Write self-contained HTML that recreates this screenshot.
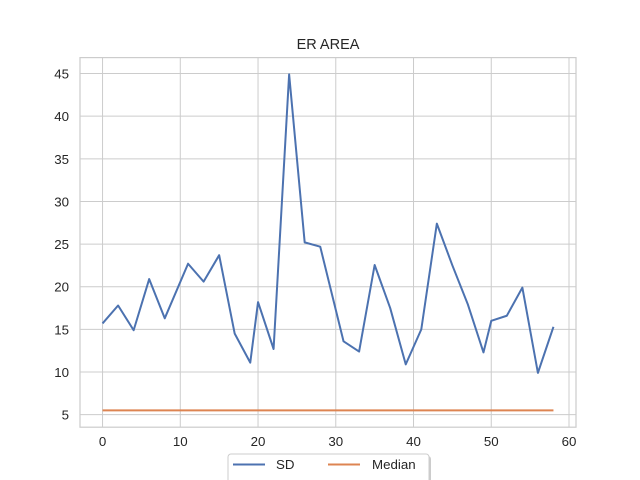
<!DOCTYPE html>
<html><head><meta charset="utf-8"><style>
body{margin:0;background:#fff;}
svg{display:block;font-family:"Liberation Sans",sans-serif;}
</style></head><body>
<svg id="chart" width="640" height="480">
<text x="328" y="49" text-anchor="middle" font-size="14.5" fill="#262626">ER AREA</text>
<g id="grid"></g>
<rect x="80" y="57.6" width="496" height="369.6" fill="none" stroke="#cccccc" stroke-width="1.2"/>
<g id="ticks"></g>
<g id="series"></g>
<g>
<rect x="230" y="456" width="201" height="30" rx="3" fill="#999" opacity="0.5"/>
<rect x="228" y="454" width="201" height="30" rx="3" fill="#fff" stroke="#cccccc"/>
<line x1="233" y1="464.5" x2="265" y2="464.5" stroke="#4c72b0" stroke-width="2"/>
<text x="276" y="469" font-size="13.3" fill="#262626">SD</text>
<line x1="328" y1="464.5" x2="360" y2="464.5" stroke="#dd8452" stroke-width="2"/>
<text x="372" y="469" font-size="13.3" fill="#262626">Median</text>
</g>
</svg>
<script>
const sdX=[0,2,4,6,8,11,13,15,17,19,20,22,24,26,28,31,33,35,37,39,41,43,45,47,49,50,52,54,56,58];
const sdY=[15.7,17.8,14.9,20.9,16.3,22.7,20.6,23.7,14.5,11.1,18.2,12.7,44.9,25.2,24.7,13.6,12.4,22.55,17.5,10.9,15.0,27.4,22.5,17.9,12.3,16.0,16.6,19.9,9.9,15.3];
const medX=[0,58];
const medY=[5.5,5.5];
const xTicks=[0,10,20,30,40,50,60];
const yTicks=[5,10,15,20,25,30,35,40,45];
const L=80,R=576,T=57.6,B=427.2,xmin=-2.9,xmax=60.9,ymin=3.53,ymax=46.87;
const sx=v=>L+(v-xmin)/(xmax-xmin)*(R-L);
const sy=v=>B-(v-ymin)/(ymax-ymin)*(B-T);
const NS="http://www.w3.org/2000/svg";
const grid=document.getElementById('grid'),ticks=document.getElementById('ticks'),ser=document.getElementById('series');
function mk(tag,attrs,parent){const e=document.createElementNS(NS,tag);for(const k in attrs)e.setAttribute(k,attrs[k]);parent.appendChild(e);return e;}
xTicks.forEach(t=>{
 const g=mk('line',{x1:sx(t),x2:sx(t),y1:T,y2:B,stroke:'#cccccc','stroke-width':1},grid);
 
 
 const tx=mk('text',{x:sx(t),y:B+19,'text-anchor':'middle','font-size':13.3,fill:'#262626'},ticks);
 tx.textContent=t;
 
 
});
yTicks.forEach(t=>{
 const g=mk('line',{x1:L,x2:R,y1:sy(t),y2:sy(t),stroke:'#cccccc','stroke-width':1},grid);
 
 
 const tx=mk('text',{x:L-11,y:sy(t)+5,'text-anchor':'end','font-size':13.3,fill:'#262626'},ticks);
 tx.textContent=t;
 
 
});
const p1=mk('polyline',{points:sdX.map((x,i)=>sx(x)+','+sy(sdY[i])).join(' '),fill:'none',stroke:'#4c72b0','stroke-width':2,'stroke-linejoin':'round'},ser);


const p2=mk('polyline',{points:medX.map((x,i)=>sx(x)+','+sy(medY[i])).join(' '),fill:'none',stroke:'#dd8452','stroke-width':2},ser);


</script>
</body></html>
